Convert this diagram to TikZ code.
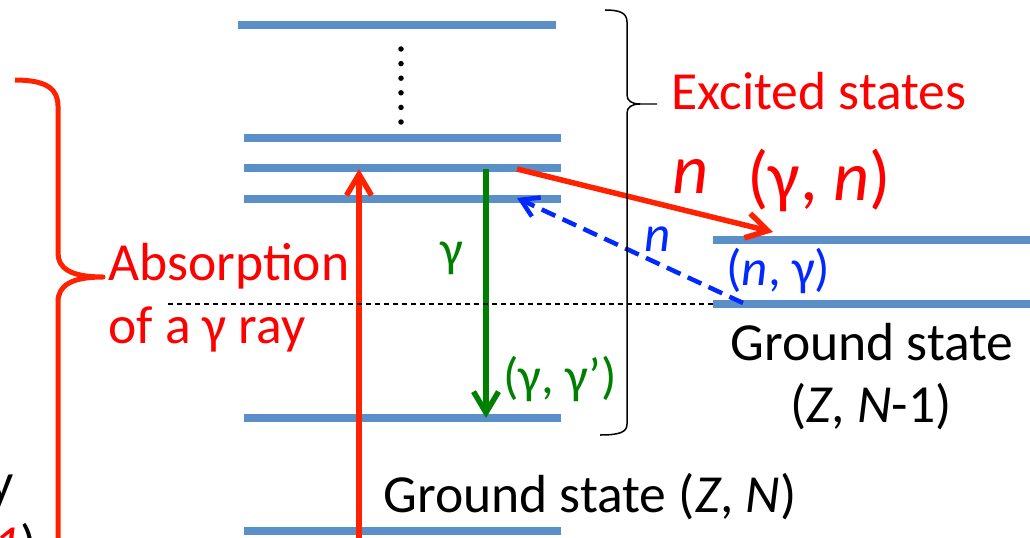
\documentclass[tikz,border=0pt]{standalone}
\usepackage{fontspec}
\setmainfont{Carlito}
\usetikzlibrary{positioning, arrows.meta}

\definecolor{levelblue}{RGB}{91,143,199}
\definecolor{arrowred}{RGB}{255,34,0}
\definecolor{textred}{RGB}{255,0,0}
\definecolor{decaygreen}{RGB}{0,128,0}
\definecolor{neutronblue}{RGB}{0,40,255}

\begin{document}
\begin{tikzpicture}[
x=0.02cm, y=-0.02cm,
level/.style={levelblue, line width=0.155cm},
arrow/.style={-{Straight Barb[length=0.42cm, width=0.5cm]}, line width=0.11cm},
label/.style={inner sep=0pt, font=\fontsize{30.5}{36}\selectfont},
small/.style={inner sep=0pt, font=\fontsize{29}{34}\selectfont},
big/.style={inner sep=0pt, font=\fontsize{40}{48}\selectfont},
brace/.style={line width=0.03cm, line join=round}
]
\useasboundingbox (0,0) rectangle (1030,537);
\clip (0,0) rectangle (1030,537);

% Levels of (Z, N)
\draw[level] (238,25) -- (556,25);
\foreach \y in {138,168,199,418,531}
  \draw[level] (244,\y) -- (561,\y);

% Levels of (Z, N-1)
\draw[level] (713,240) -- (1035,240);
\draw[level] (713,304) -- (1035,304);

% Dots
\foreach \k in {0,...,5}
  \fill (401,49+14.6*\k) circle[radius=0.055cm];

% End points
\coordinate (abs_start) at (359,545);
\coordinate (abs_end) at (359,169);
\coordinate (gam_start) at (486,169);
\coordinate (gam_end) at (486,418);
\coordinate (n_start) at (517,169);
\coordinate (n_end) at (773,232);
\coordinate (cap_start) at (743,303);
\coordinate (cap_end) at (517,198);

% Arrows
\draw[arrow, arrowred] (abs_start) -- (abs_end);
\draw[arrow, decaygreen] (gam_start) -- (gam_end);
\draw[arrow, arrowred] (n_start) -- (n_end);
\draw[-{Straight Barb[length=0.34cm, width=0.42cm]}, line width=0.09cm, neutronblue,
  dash pattern=on 0.3cm off 0.16cm] (cap_start) -- (cap_end);

% Separation energy
\draw[line width=0.04cm, dash pattern=on 0.1cm off 0.08cm] (168,304) -- (713,304);

% Braces
\draw[brace] (605,10) .. controls (620,10) and (627,13) .. (627,22) -- (627,95)
  .. controls (627,101) and (632,104) .. (640,104) -- (657,104);
\draw[brace] (640,104) .. controls (632,104) and (627,107) .. (627,113) -- (627,424)
  .. controls (627,432) and (620,435) .. (600,435);
\draw[brace, arrowred, line width=0.1cm] (15,80) .. controls (48,80) and (58,90) .. (58,106)
  -- (58,253) .. controls (58,268) and (70,277) .. (103,277)
  .. controls (72,277) and (58,285) .. (58,302) -- (58,545);

% Labels
\node[label, textred, anchor=base west] (excited) at (671,110) {Excited states};
\node[big, textred, anchor=base west] (n_out) at (672,193) {\textit{n}};
\node[big, textred, anchor=base west] (gn) at (747,200) {(γ, \textit{n})};
\node[small, neutronblue, anchor=base] (n_in) at (658,251) {\textit{n}};
\node[small, neutronblue, anchor=base west] (ng) at (726,285) {(\textit{n}, γ)};
\node[small, decaygreen, anchor=base] (gam) at (452,266) {γ};
\node[small, decaygreen, anchor=base west] (gg) at (503,393) {(γ, γ’)};
\node[label, textred, anchor=base west] (absorb) at (108,280) {Absorption};
\node[label, textred, anchor=base west] (absorb_b) at (108,343) {of a γ ray};
\node[label, anchor=base west] (gs_zn) at (383,512) {Ground state (\textit{Z}, \textit{N})};
\node[label, anchor=base] (gs_zn1) at (872,360) {Ground state};
\node[label, anchor=base] (gs_zn1_b) at (871,422) {(\textit{Z}, \textit{N}-1)};

% Cut-off text at the left edge
\node[label, anchor=base east] (cut_y) at (14,500) {y};
\node[label, anchor=base east] (cut_one) at (37,562) {{\color{textred}\textit{1}})};

\end{tikzpicture}
\end{document}
